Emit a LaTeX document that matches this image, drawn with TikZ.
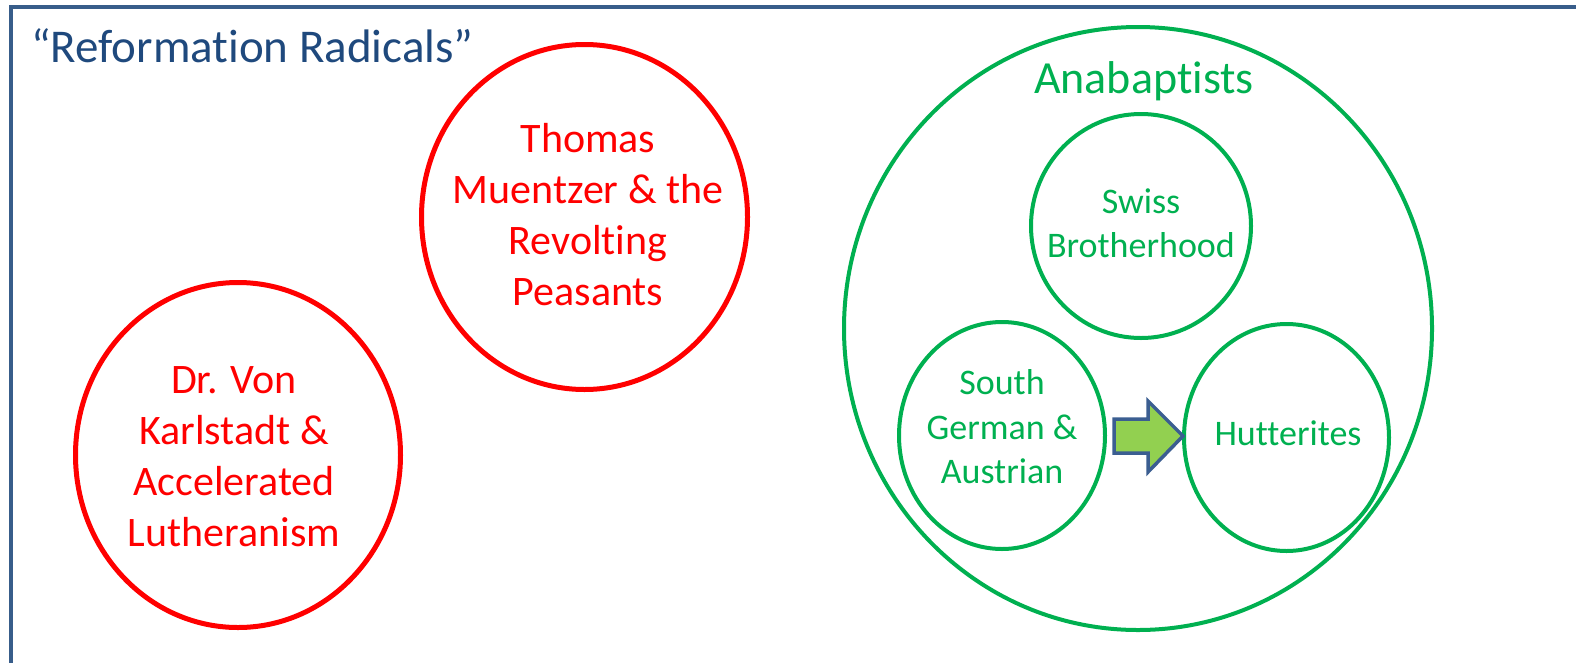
\documentclass[tikz,border=0pt]{standalone}
\usepackage{fontspec}
\setmainfont{Carlito}[Ligatures=NoCommon]
\usepackage{tikz}
\usetikzlibrary{shapes.geometric}

\definecolor{framecol}{RGB}{56,93,138}
\definecolor{titlecol}{RGB}{31,73,125}
\definecolor{radred}{RGB}{255,0,0}
\definecolor{anagreen}{RGB}{0,176,80}
\definecolor{arrowfill}{RGB}{146,208,80}
\definecolor{arrowline}{RGB}{59,94,145}

\begin{document}
\begin{tikzpicture}[x=1pt,y=-1pt,
    redring/.style={ellipse,draw=radred,line width=5pt,inner sep=0pt},
    greenring/.style={ellipse,draw=anagreen,line width=4pt,inner sep=0pt},
    redtext/.style={text=radred,align=center,inner sep=0pt,font=\fontsize{42}{51}\selectfont},
    greentext/.style={text=anagreen,align=center,inner sep=0pt,font=\fontsize{36}{44.5}\selectfont}]
    \useasboundingbox (0,0) rectangle (1576,662);
    \clip (0,0) rectangle (1576,662);
    \draw[framecol,line width=4pt] (10.5,7) rectangle (1577.5,700);
    \node[anchor=base west,inner sep=0pt,text=titlecol,font=\fontsize{47}{56}\selectfont] (title) at (31,62) {“Reformation Radicals”};
    % the two red groups
    \node[redring,minimum width=326pt,minimum height=345pt] (muentzer) at (584.5,217) {};
    \node[redtext] (muentzer-txt) at (588,215) {Thomas\\Muentzer \& the\\Revolting\\Peasants};
    \node[redring,minimum width=325pt,minimum height=345pt] (karlstadt) at (238,455) {};
    \node[redtext] (karlstadt-txt) at (234,457) {Dr. Von\\Karlstadt \&\\Accelerated\\Lutheranism};
    % anabaptists
    \node[greenring,minimum width=588pt,minimum height=603pt] (ana) at (1138,328.5) {};
    \node[anchor=base,inner sep=0pt,text=anagreen,font=\fontsize{46}{55}\selectfont] (ana-txt) at (1144,93) {Anabaptists};
    \node[greenring,minimum width=220pt,minimum height=224pt] (swiss) at (1141,226) {};
    \node[greentext] (swiss-txt) at (1141,223) {Swiss\\Brotherhood};
    \node[greenring,minimum width=206pt,minimum height=227pt] (southgerman) at (1002,435.5) {};
    \node[greentext] (southgerman-txt) at (1002,427) {South\\German \&\\Austrian};
    \node[greenring,minimum width=205pt,minimum height=227pt] (hutterites) at (1286.5,437.5) {};
    \node[greentext,anchor=base] (hutterites-txt) at (1288,445) {Hutterites};
    \draw[arrowline,fill=arrowfill,line width=3.5pt,line join=miter]
      (1114,419) -- (1148,419) -- (1148,401) -- (1183,436) -- (1148,472) -- (1148,453) -- (1114,453) -- cycle;
\end{tikzpicture}
\end{document}
